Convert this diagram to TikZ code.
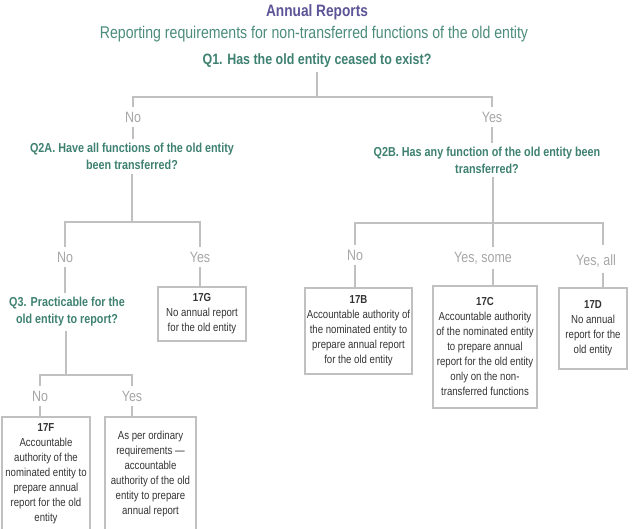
\documentclass[tikz,border=0pt]{standalone}
\usepackage{fontspec}
\setmainfont{Liberation Sans}[FakeStretch=0.83]
\definecolor{titlepurple}{HTML}{5B5597}
\definecolor{qgreen}{HTML}{3E8170}
\definecolor{subgreen}{HTML}{4B8C7B}
\definecolor{linegray}{HTML}{C0C0C0}
\definecolor{answergray}{HTML}{A6A6A6}
\definecolor{boxtext}{HTML}{333333}

\begin{document}
\begin{tikzpicture}[x=1pt, y=-1pt,
    heading/.style={text=titlepurple, font=\fontsize{16.5}{20}\selectfont\bfseries, inner sep=0pt},
    subheading/.style={text=subgreen, font=\fontsize{17}{20}\selectfont, inner sep=0pt},
    question/.style={text=qgreen, font=\fontsize{13}{17}\selectfont\bfseries, align=center, inner sep=4pt},
    answer/.style={text=answergray, font=\fontsize{15}{18}\selectfont, inner sep=5pt},
    outcome/.style={draw=linegray, line width=1.6pt, text=boxtext,
        font=\fontsize{11.6}{15}\selectfont, align=center, inner sep=0pt, anchor=north},
    edge/.style={draw=linegray, line width=1.6pt}
]
    \useasboundingbox (0,0) rectangle (634,529);
    \node[heading] (title) at (317,12) {Annual Reports};
    \node[subheading] (subtitle) at (314,34) {Reporting requirements for non-transferred functions of the old entity};
    \node[question, font=\fontsize{15}{18}\selectfont\bfseries] (q1) at (317,61) {Q1. Has the old entity ceased to exist?};
    \node[answer] (q1no) at (133,117) {No};
    \node[answer] (q1yes) at (492,117) {Yes};
    \node[question] (q2a) at (132,156.5) {Q2A. Have all functions of the old entity\\been transferred?};
    \node[question] (q2b) at (487,160) {Q2B. Has any function of the old entity been\\transferred?};
    \node[answer] (q2ano) at (65,257) {No};
    \node[answer] (q2ayes) at (200,257) {Yes};
    \node[question] (q3) at (67,312) {Q3. Practicable for the\\old entity to report?};
    \node[answer] (q2bno) at (355,255) {No};
    \node[answer] (q2bsome) at (483,258) {Yes, some};
    \node[answer] (q2ball) at (596,261) {Yes, all};
    \node[answer] (q3no) at (40,396) {No};
    \node[answer] (q3yes) at (132,396) {Yes};
    \node[outcome, minimum width=88, minimum height=54] (g17) at (202,286)
        {\textbf{17G}\\No annual report\\for the old entity};
    \node[outcome, minimum width=107, minimum height=86] (b17) at (358.5,287)
        {\textbf{17B}\\Accountable authority of\\the nominated entity to\\prepare annual report\\for the old entity};
    \node[outcome, minimum width=104, minimum height=122] (c17) at (485,285)
        {\textbf{17C}\\Accountable authority\\of the nominated entity\\to prepare annual\\report for the old entity\\only on the non-\\transferred functions};
    \node[outcome, minimum width=68, minimum height=81] (d17) at (593,287)
        {\textbf{17D}\\No annual\\report for the\\old entity};
    \node[outcome, draw=none, minimum width=86, minimum height=112] (f17) at (46,417)
        {\textbf{17F}\\Accountable\\authority of the\\nominated entity to\\prepare annual\\report for the old\\entity};
    \node[outcome, draw=none, minimum width=89, minimum height=112] (ordinary) at (150.5,417)
        {As per ordinary\\requirements ---\\accountable\\authority of the old\\entity to prepare\\annual report};
    \coordinate (f1) at (317,97);
    \coordinate (f2a) at (132,222);
    \coordinate (f2b) at (493,223);
    \coordinate (t2ball) at (603,245);
    \coordinate (f3) at (66,375);
    \draw[edge] (q1) -- (f1);
    \draw[edge] (q1no) |- (f1) -| (q1yes);
    \draw[edge] (q1no) -- (q1no |- q2a.north);
    \draw[edge] (q1yes) -- (q1yes |- q2b.north);
    \draw[edge] (q2a) -- (f2a);
    \draw[edge] (q2ano) |- (f2a) -| (q2ayes);
    \draw[edge] (q2ano) -- (q2ano |- q3.north);
    \draw[edge] (q2ayes) -- (q2ayes |- g17.north);
    \draw[edge] (q2b.south -| f2b) -- (f2b);
    \draw[edge] (q2bno) |- (f2b) -| (t2ball);
    \draw[edge] (f2b) -- (f2b |- q2bsome.north);
    \draw[edge] (q2bno) -- (q2bno |- b17.north);
    \draw[edge] (q2bsome.south -| f2b) -- (f2b |- c17.north);
    \draw[edge] (q2ball.south -| t2ball) -- (t2ball |- d17.north);
    \draw[edge] (q3.south -| f3) -- (f3);
    \draw[edge] (q3no) |- (f3) -| (q3yes);
    \draw[edge] (q3no) -- (q3no |- f17.north);
    \draw[edge] (q3yes) -- (q3yes |- ordinary.north);
    \draw[edge] (f17.south west) -- (f17.north west) -- (f17.north east) -- (f17.south east);
    \draw[edge] (ordinary.south west) -- (ordinary.north west) -- (ordinary.north east) -- (ordinary.south east);
\end{tikzpicture}
\end{document}
